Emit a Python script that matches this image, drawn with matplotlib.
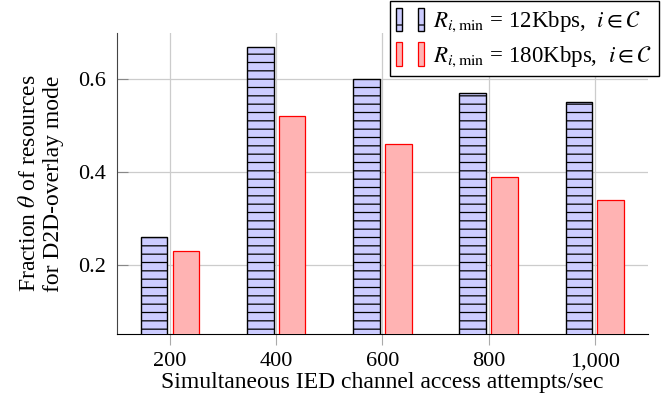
import matplotlib
matplotlib.use("Agg")
import matplotlib.pyplot as plt
from matplotlib.patches import Patch
from matplotlib.legend_handler import HandlerTuple
import numpy as np

plt.rcParams['font.family'] = ['Liberation Serif', 'DejaVu Serif']
plt.rcParams['mathtext.fontset'] = 'stix'
plt.rcParams['hatch.linewidth'] = 0.9

# data
attempts = [200, 400, 600, 800, 1000]
tick_labels = ["200", "400", "600", "800", "1,000"]
frac_12kbps = [0.26, 0.67, 0.60, 0.57, 0.55]
frac_180kbps = [0.23, 0.52, 0.46, 0.39, 0.34]

x = np.array(attempts)

fig = plt.figure(figsize=(6.61, 4.0), dpi=100)
ax = fig.add_axes([0.177, 0.165, 0.803, 0.7525])

ax.bar(x - 30, frac_12kbps, width=50, facecolor="#ccccff", edgecolor="black",
       hatch="--", linewidth=1.0, zorder=3)
ax.bar(x + 30, frac_180kbps, width=50, facecolor="#ffb3b3", edgecolor="#ff0000",
       linewidth=0.9, zorder=3)

ax.set_xlim(100, 1100)
ax.set_ylim(0.05, 0.70)
ax.set_xticks(attempts)
ax.set_xticklabels(tick_labels)
ax.set_yticks([0.2, 0.4, 0.6])
ax.set_yticklabels(["0.2", "0.4", "0.6"])

ax.grid(True, color="#cccccc", linewidth=0.9, zorder=0)
ax.spines['top'].set_visible(False)
ax.spines['right'].set_visible(False)
ax.spines['left'].set_color("#444444")
ax.spines['bottom'].set_color("black")
ax.tick_params(axis='x', direction='out', length=8, color="#aaaaaa", pad=5, labelsize=16)
ax.tick_params(axis='y', direction='in', length=8, color="#888888", pad=8, labelsize=16)

ax.set_xlabel("Simultaneous IED channel access attempts/sec", fontsize=17, labelpad=1)
ax.set_ylabel("Fraction $\\theta$ of resources\nfor D2D-overlay mode", fontsize=17,
              linespacing=1.2, labelpad=10)

# legend with two small bars per entry
h1 = (Patch(facecolor="#ccccff", edgecolor="black", hatch="-", linewidth=1.0),
      Patch(facecolor="#ccccff", edgecolor="black", hatch="-", linewidth=1.0))
h2 = (Patch(facecolor="#ffb3b3", edgecolor="#ff0000", linewidth=0.9),
      Patch(facecolor="#ffb3b3", edgecolor="#ff0000", linewidth=0.9))
leg = fig.legend([h1, h2],
                 ["$R_{i,\\min}$ = 12Kbps,  $i \\in \\mathcal{C}$",
                  "$R_{i,\\min}$ = 180Kbps,  $i \\in \\mathcal{C}$"],
                 handler_map={tuple: HandlerTuple(ndivide=None, pad=0.7)},
                 loc="upper right", bbox_to_anchor=(0.997, 0.998),
                 fancybox=False, edgecolor="black", framealpha=1,
                 fontsize=16.5, handlelength=1.2, handleheight=1.2,
                 handletextpad=0.4, borderpad=0.3, labelspacing=0.35,
                 borderaxespad=0)
leg.get_frame().set_linewidth(1.0)

fig.savefig("out.png", dpi=100)
